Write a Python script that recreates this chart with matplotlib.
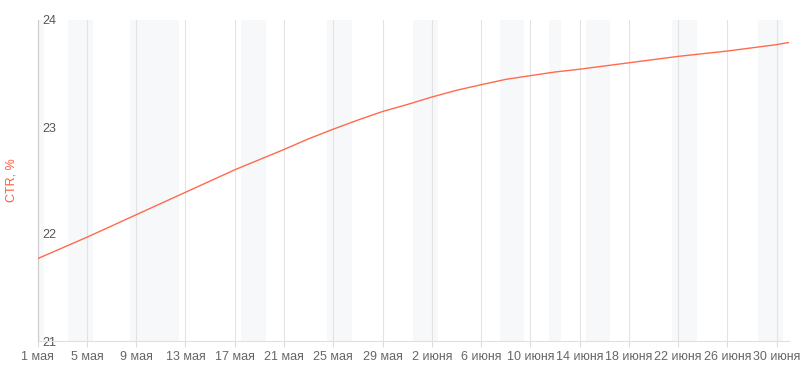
import numpy as np
import matplotlib
matplotlib.use("Agg")
import matplotlib.pyplot as plt

# дни от 1 мая (2019), CTR в %
days = [0, 4, 8, 12, 16, 20, 22, 24, 26, 28, 30, 32, 34, 36, 38, 40, 42,
        44, 48, 52, 56, 60, 61]
ctr = [21.77, 21.97, 22.18, 22.39, 22.60, 22.79, 22.89, 22.98, 23.065,
       23.145, 23.21, 23.28, 23.343, 23.395, 23.445, 23.48, 23.514,
       23.54, 23.60, 23.66, 23.71, 23.77, 23.79]

# выходные и праздники (номер дня от 1 мая)
holidays = [0, 3, 4, 8, 9, 10, 11, 17, 18, 24, 25, 31, 32, 38, 39, 42,
            45, 46, 52, 53, 59, 60]

tick_days = list(range(0, 61, 4))
tick_labels = ["1 мая", "5 мая", "9 мая", "13 мая", "17 мая", "21 мая",
               "25 мая", "29 мая", "2 июня", "6 июня", "10 июня", "14 июня",
               "18 июня", "22 июня", "26 июня", "30 июня"]

plt.rcParams['font.family'] = ['Liberation Sans', 'DejaVu Sans']

fig = plt.figure(figsize=(8.09, 3.75), dpi=100)
ax = fig.add_axes([37.7 / 809, 34 / 375, (789 - 37.7) / 809, 321 / 375])

for d in holidays:
    ax.axvspan(d - 0.5, d + 0.5, color="#f7f8fa", lw=0, zorder=0)

for t in tick_days:
    ax.axvline(t, color="#e3e3e3", lw=0.8, zorder=1)

ax.plot(days, ctr, color="#ff6a4d", lw=1.0, zorder=3)

ax.set_xlim(0, 61)
ax.set_ylim(21, 24)
ax.set_xticks(tick_days)
ax.set_xticklabels(tick_labels)
ax.set_yticks([21, 22, 23, 24])

ax.tick_params(axis="x", colors="#dcdcdc", length=4, width=0.8, pad=3,
               labelcolor="#666666", labelsize=9)
ax.tick_params(axis="y", length=0, pad=-3, labelcolor="#555555", labelsize=9)
for lab in ax.get_yticklabels():
    lab.set_horizontalalignment("left")

for s in ["top", "right"]:
    ax.spines[s].set_visible(False)
ax.spines["left"].set_color("#cccccc")
ax.spines["left"].set_linewidth(0.8)
ax.spines["bottom"].set_color("#e0e0e0")
ax.spines["bottom"].set_linewidth(0.8)

fig.text(12 / 809, 1 - 180 / 375, "CTR, %", rotation=90, color="#ff5a3c",
         fontsize=9, ha="center", va="center")

fig.savefig("out.png", dpi=100)
